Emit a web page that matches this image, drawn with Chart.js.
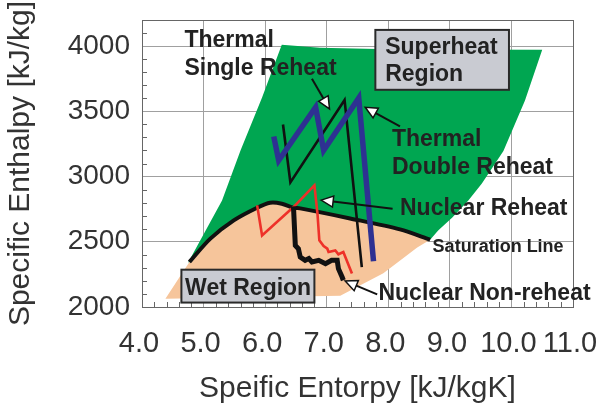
<!DOCTYPE html>
<html>
<head>
<meta charset="utf-8">
<script src="https://cdn.jsdelivr.net/npm/chart.js@4.4.1/dist/chart.umd.min.js"></script>
<style>
  html, body { margin: 0; padding: 0; background: #fff; }
  #wrap { width: 602px; height: 410px; }
</style>
</head>
<body>
<div id="wrap"><canvas id="chart" width="602" height="410"></canvas></div>
<script>
// Entropy (kJ/kgK) / enthalpy (kJ/kg)
const xTicks = [4, 5, 6, 7, 8, 9, 10, 11];
const yTicks = [2000, 2500, 3000, 3500, 4000];

// saturation dome, left to right
const satS = [4.77, 5.11, 5.49, 5.87, 6.08, 6.27, 6.46, 6.57, 7.38, 8.19, 8.68];
const satH = [2345, 2524, 2664, 2761, 2799, 2792, 2761, 2756, 2679, 2595, 2516];

// superheat region outline (left edge up, top, right edge down to the dome end)
const superS = [4.75, 5.30, 5.60, 5.95, 6.27, 6.89, 8.19, 10.50, 10.22, 9.87, 9.52, 9.30, 9.04, 8.81, 8.68];
const superH = [2342, 2817, 3200, 3606, 4011, 3988, 3973, 3971, 3583, 3196, 2947, 2817, 2687, 2587, 2516];

// wet region outline below the dome (from the dome end round to its start)
const wetS = [8.68, 8.47, 7.92, 7.22, 4.38, 4.77];
const wetH = [2516, 2457, 2258, 2086, 2064, 2345];

const doubleS = [6.14, 6.22, 6.82, 6.95, 7.52, 7.76];
const doubleH = [3307, 3123, 3531, 3200, 3602, 2350];

const singleS = [6.29, 6.41, 7.29, 7.57];
const singleH = [3399, 2955, 3587, 2306];

const nucReS = [5.87, 5.95, 6.46, 6.80, 6.85, 6.88, 6.95, 7.01, 7.03, 7.14, 7.19, 7.27, 7.41];
const nucReH = [2779, 2549, 2766, 2932, 2715, 2511, 2467, 2447, 2421, 2434, 2404, 2421, 2256];

const nucNoS = [6.46, 6.49, 6.54, 6.57, 6.65, 6.71, 6.76, 6.87, 6.98, 7.08, 7.17, 7.19, 7.25, 7.27];
const nucNoH = [2771, 2472, 2447, 2383, 2358, 2371, 2345, 2358, 2332, 2358, 2358, 2294, 2230, 2205];

const pts = (xs, ys) => xs.map((x, i) => ({ x: x, y: ys[i] }));
const rev = a => a.slice().reverse();

const FONT = "'Liberation Sans', Arial, Helvetica, sans-serif";

// text labels, boxes and arrows in data units
const boxes = [
  { x1: 7.79, y1: 4124, x2: 9.96, y2: 3665 },
  { x1: 4.64, y1: 2286, x2: 6.80, y2: 2034 }
];
const labels = [
  { text: 'Thermal', x: 4.69, y: 3992, size: 23 },
  { text: 'Single Reheat', x: 4.69, y: 3782, size: 23 },
  { text: 'Superheat', x: 7.95, y: 3940, size: 23 },
  { text: 'Region', x: 7.95, y: 3736, size: 23 },
  { text: 'Thermal', x: 8.06, y: 3233, size: 23 },
  { text: 'Double Reheat', x: 8.06, y: 3022, size: 23 },
  { text: 'Nuclear Reheat', x: 8.19, y: 2702, size: 23 },
  { text: 'Saturation Line', x: 8.72, y: 2421, size: 18 },
  { text: 'Nuclear Non-reheat', x: 7.84, y: 2057, size: 23 },
  { text: 'Wet Region', x: 4.70, y: 2090, size: 23 }
];
const arrows = [
  { x1: 6.76, y1: 3749, x2: 7.045, y2: 3519 },
  { x1: 8.19, y1: 3384, x2: 7.625, y2: 3531 },
  { x1: 8.07, y1: 2754, x2: 6.91, y2: 2819 },
  { x1: 7.82, y1: 2097, x2: 7.30, y2: 2199 }
];

const extras = {
  id: 'extras',
  beforeDatasetsDraw(chart) {
    const { ctx, chartArea: a, scales: { x, y } } = chart;
    ctx.save();
    ctx.strokeStyle = '#666';
    ctx.lineWidth = 1;
    ctx.beginPath();
    for (let i = 0; i <= 35; i++) {
      if (i % 5 === 0) continue;
      const px = Math.round(x.getPixelForValue(4 + i * 0.2)) + 0.5;
      ctx.moveTo(px, a.bottom);
      ctx.lineTo(px, a.bottom - 5);
    }
    for (let i = 0; i <= 22; i++) {
      if (i % 5 === 0) continue;
      const py = Math.round(y.getPixelForValue(2000 + i * 100)) + 0.5;
      ctx.moveTo(a.left, py);
      ctx.lineTo(a.left + 5, py);
    }
    ctx.stroke();
    ctx.strokeRect(Math.round(a.left) + 0.5, Math.round(a.top) + 0.5,
                   Math.round(a.right - a.left), Math.round(a.bottom - a.top));
    ctx.restore();
  },
  afterDatasetsDraw(chart) {
    const { ctx, scales: { x, y } } = chart;
    ctx.save();
    boxes.forEach(b => {
      const l = x.getPixelForValue(b.x1), t = y.getPixelForValue(b.y1);
      const r = x.getPixelForValue(b.x2), btm = y.getPixelForValue(b.y2);
      ctx.fillStyle = '#c9cbd2';
      ctx.fillRect(l, t, r - l, btm - t);
      ctx.strokeStyle = '#2a2a2a';
      ctx.lineWidth = 2;
      ctx.strokeRect(l, t, r - l, btm - t);
    });
    ctx.fillStyle = '#222';
    ctx.textBaseline = 'alphabetic';
    ctx.textAlign = 'left';
    labels.forEach(lb => {
      ctx.font = 'bold ' + lb.size + 'px ' + FONT;
      ctx.fillText(lb.text, x.getPixelForValue(lb.x), y.getPixelForValue(lb.y));
    });
    arrows.forEach(ar => {
      const x1 = x.getPixelForValue(ar.x1), y1 = y.getPixelForValue(ar.y1);
      const x2 = x.getPixelForValue(ar.x2), y2 = y.getPixelForValue(ar.y2);
      const ang = Math.atan2(y2 - y1, x2 - x1);
      const len = 12, half = 5.5;
      const bx = x2 - Math.cos(ang) * len, by = y2 - Math.sin(ang) * len;
      ctx.strokeStyle = '#111';
      ctx.lineWidth = 2;
      ctx.beginPath();
      ctx.moveTo(x1, y1);
      ctx.lineTo(bx, by);
      ctx.stroke();
      ctx.beginPath();
      ctx.moveTo(x2, y2);
      ctx.lineTo(bx + Math.sin(ang) * half, by - Math.cos(ang) * half);
      ctx.lineTo(bx - Math.sin(ang) * half, by + Math.cos(ang) * half);
      ctx.closePath();
      ctx.fillStyle = '#fff';
      ctx.fill();
      ctx.lineWidth = 1.5;
      ctx.stroke();
    });
    ctx.restore();
  }
};

const lineDs = (data, color, width, order, tension) => ({
  data: data,
  borderColor: color,
  borderWidth: width,
  pointRadius: 0,
  fill: false,
  tension: tension || 0,
  borderJoinStyle: 'miter',
  order: order
});

new Chart(document.getElementById('chart'), {
  type: 'line',
  data: {
    datasets: [
      {
        data: pts(superS.concat(rev(satS)), superH.concat(rev(satH))),
        backgroundColor: '#00a651',
        borderWidth: 0,
        pointRadius: 0,
        fill: 'shape',
        order: 20
      },
      {
        data: pts(satS.concat(wetS), satH.concat(wetH)),
        backgroundColor: '#f6c59b',
        borderWidth: 0,
        pointRadius: 0,
        fill: 'shape',
        order: 19
      },
      lineDs(pts(satS, satH), '#111', 4, 6, 0.3),
      lineDs(pts(singleS, singleH), '#111', 2.6, 5),
      lineDs(pts(doubleS, doubleH), '#2e3192', 5.5, 4),
      lineDs(pts(nucReS, nucReH), '#ee3129', 2.6, 3),
      lineDs(pts(nucNoS, nucNoH), '#111', 5, 2)
    ]
  },
  options: {
    responsive: false,
    animation: false,
    events: [],
    layout: { padding: { left: 0, right: 29, top: 20, bottom: 0 } },
    plugins: { legend: { display: false }, tooltip: { enabled: false } },
    scales: {
      x: {
        type: 'linear',
        min: 4,
        max: 11,
        afterBuildTicks: s => { s.ticks = xTicks.map(v => ({ value: v })); },
        afterFit: s => { s.height = 103; },
        ticks: {
          autoSkip: false,
          maxRotation: 0,
          padding: 0,
          labelOffset: -3,
          color: '#333',
          font: { family: FONT, size: 29 },
          callback: v => Number(v).toFixed(1)
        },
        grid: { color: '#a0a0a0', drawTicks: true, tickLength: 20, tickColor: 'rgba(0,0,0,0)' },
        border: { color: '#666' },
        title: {
          display: true,
          text: 'Speific Entorpy [kJ/kgK]',
          color: '#333',
          font: { family: FONT, size: 30 },
          padding: { top: 0, bottom: 3 }
        }
      },
      y: {
        min: 2000,
        max: 4200,
        afterBuildTicks: s => { s.ticks = yTicks.map(v => ({ value: v })); },
        afterFit: s => { s.width = 142; },
        ticks: {
          padding: 0,
          color: '#333',
          font: { family: FONT, size: 28 },
          callback: v => String(v)
        },
        grid: { color: '#a0a0a0', drawTicks: true, tickLength: 12, tickColor: 'rgba(0,0,0,0)' },
        border: { color: '#666' },
        title: {
          display: true,
          text: 'Specific Enthalpy [kJ/kg]',
          color: '#333',
          font: { family: FONT, size: 30 },
          padding: { top: 3, bottom: 0 }
        }
      }
    }
  },
  plugins: [extras]
});
</script>
</body>
</html>
